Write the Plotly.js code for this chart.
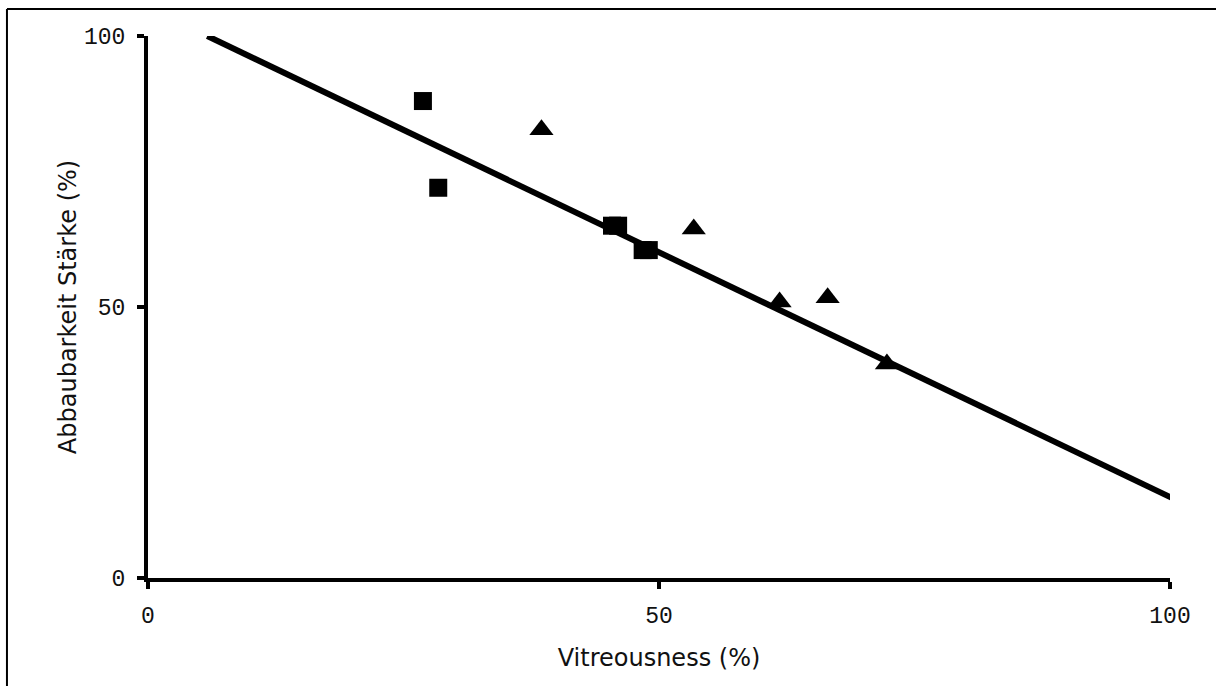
<!DOCTYPE html>
<html>
<head>
<meta charset="utf-8">
<script src="https://cdn.plot.ly/plotly-3.0.1.min.js"></script>
<style>html,body{margin:0;padding:0;background:#fff;}#chart{width:1216px;height:686px;}</style>
</head>
<body>
<div id="chart"></div>
<script>
// Square-marker series
const squareX = [26.9, 28.4, 45.4, 46.0, 48.4, 49.0];
const squareY = [88.0, 72.0, 65.0, 65.0, 60.5, 60.5];
// Triangle-marker series
const triangleX = [38.5, 53.4, 61.8, 66.5, 72.3];
const triangleY = [82.7, 64.4, 50.9, 51.7, 39.5];
// Regression line endpoints
const lineX = [5.8, 100.5];
const lineY = [100, 14.5];
// Ticks
const tickVals = [0, 50, 100];
const tickText = ['0', '50', '100'];

const traces = [
  {x: lineX, y: lineY, mode: 'lines', line: {color: '#000', width: 6}, hoverinfo: 'skip', cliponaxis: false},
  {x: squareX, y: squareY, mode: 'markers', marker: {symbol: 'square', size: 18, color: '#000'}, cliponaxis: false},
  {x: triangleX, y: triangleY, mode: 'markers', marker: {symbol: 'triangle-up', size: 21, color: '#000'}, cliponaxis: false}
];

const axisCommon = {
  showgrid: false, zeroline: false, showline: true, linecolor: '#000', linewidth: 4,
  ticks: 'outside', ticklen: 7, tickwidth: 4, tickcolor: '#000',
  tickvals: tickVals, ticktext: tickText,
  tickfont: {family: 'Liberation Mono, Courier New, monospace', size: 23, color: '#111'},
  range: [0, 100], fixedrange: true, automargin: false
};

const layout = {
  width: 1216, height: 686,
  margin: {l: 148, r: 46, t: 36, b: 108},
  paper_bgcolor: '#fff', plot_bgcolor: '#fff',
  showlegend: false,
  xaxis: Object.assign({}, axisCommon, {
    ticklabelstandoff: 6,
    title: {text: 'Vitreousness (%)', font: {family: 'DejaVu Sans, Verdana, sans-serif', size: 24, color: '#111'}, standoff: 22}
  }),
  yaxis: Object.assign({}, axisCommon, {
    ticklabelstandoff: 7,
    title: {text: 'Abbaubarkeit Stärke (%)', font: {family: 'DejaVu Sans, Verdana, sans-serif', size: 24, color: '#111'}, standoff: 2}
  }),
  shapes: [
    {type: 'line', xref: 'paper', yref: 'paper', x0: -0.138, x1: 1.05, y0: 1.0498, y1: 1.0498, line: {color: '#000', width: 2}},
    {type: 'line', xref: 'paper', yref: 'paper', x0: -0.138, x1: -0.138, y0: 1.0498, y1: -0.21, line: {color: '#000', width: 2}}
  ]
};

Plotly.newPlot('chart', traces, layout, {displayModeBar: false, staticPlot: true});
</script>
</body>
</html>
